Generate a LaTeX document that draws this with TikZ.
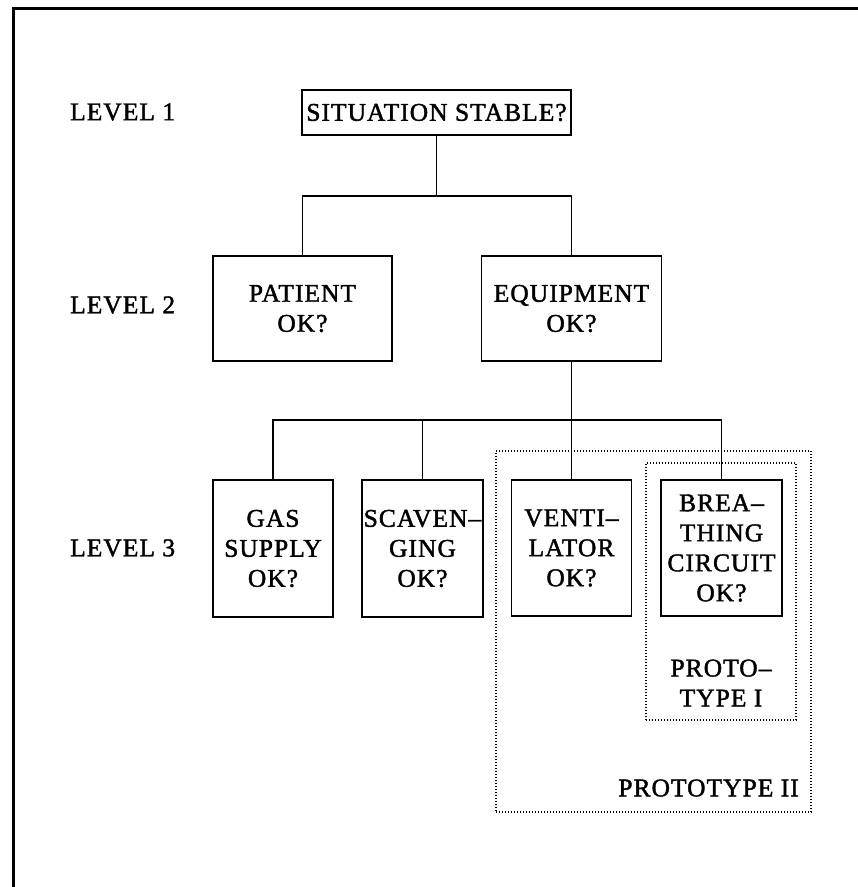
\documentclass[tikz,border=0pt]{standalone}
\usepackage{fontspec}
\setmainfont{Liberation Serif}[FakeBold=1.6, LetterSpace=4]
\begin{document}
\begin{tikzpicture}[x=1pt,y=-1pt,
  every node/.style={font=\fontsize{25.5}{30}\selectfont, inner sep=0pt, align=center},
  qbox/.style={draw, line width=1.3pt},
  link/.style={line width=1.1pt},
  proto/.style={draw, line width=1.3pt, dash pattern=on 1pt off 2pt},
  lvl/.style={anchor=west}]
\useasboundingbox (0,0) rectangle (858,887);
% frame (top and left edges)
\coordinate (ftl) at (13,8.5);
\coordinate (ftr) at (858,8.5);
\coordinate (fbl) at (13,887);
\draw[line width=3pt] (fbl) -- (ftl) -- (ftr);
% level labels
\node[lvl] (lev1) at (70,112) {LEVEL 1};
\node[lvl] (lev2) at (70,305) {LEVEL 2};
\node[lvl] (lev3) at (70,548) {LEVEL 3};
% prototype boxes
\node[proto, minimum width=315pt, minimum height=361pt] (p2) at (653.5,631.5) {};
\node[proto, minimum width=150pt, minimum height=257pt] (p1) at (721,591.5) {};
\node (p1t) at (721,683) {PROTO–\\TYPE I};
\node[anchor=east] (p2t) at (799,788) {PROTOTYPE II};
% level 1
\node[qbox, minimum width=269pt, minimum height=45pt] (sit) at (436.5,112.5) {SITUATION STABLE?};
% level 2
\node[qbox, minimum width=179pt, minimum height=105pt] (pat) at (302.5,308.5) {PATIENT\\OK?};
\node[qbox, minimum width=180pt, minimum height=105pt] (equ) at (571.5,308.5) {EQUIPMENT\\OK?};
% level 3
\node[qbox, minimum width=120pt, minimum height=137pt] (gas) at (273,548.5) {GAS\\SUPPLY\\OK?};
\node[qbox, minimum width=121pt, minimum height=137pt] (sca) at (422.5,548.5) {SCAVEN–\\GING\\OK?};
\node[qbox, minimum width=120pt, minimum height=136pt] (ven) at (571.5,548) {VENTI–\\LATOR\\OK?};
\node[qbox, minimum width=121pt, minimum height=136pt] (bre) at (721.5,548) {BREA–\\THING\\CIRCUIT\\OK?};
% connectors
\coordinate (j1) at (436.5,196);
\coordinate (j2) at (571.5,420);
\draw[link] (sit.south) -- (j1);
\draw[link] (pat.north) |- (j1) -| (equ.north);
\draw[link] (equ.south) -- (j2);
\draw[link] (gas.north) |- (j2) -| (bre.north);
\draw[link] (sca.north) -- (sca.north |- j2);
\draw[link] (ven.north) -- (j2);
\end{tikzpicture}
\end{document}
